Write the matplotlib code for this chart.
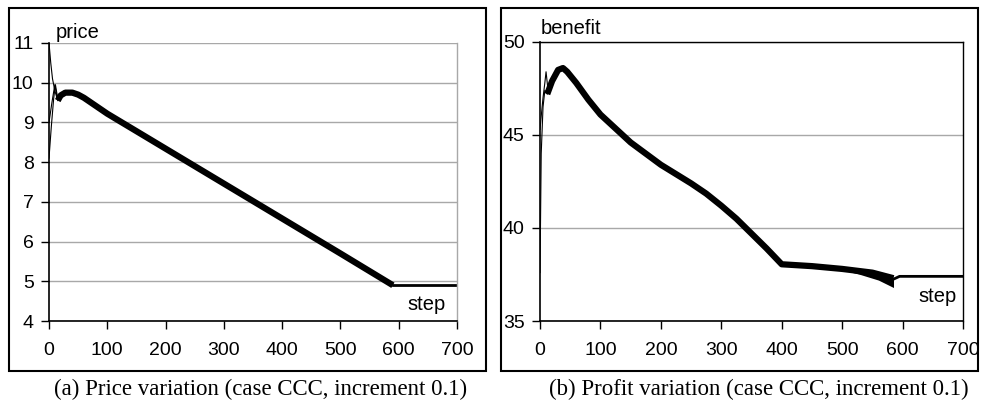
import matplotlib
matplotlib.use("Agg")
import matplotlib.pyplot as plt
from matplotlib.patches import Rectangle

# ---- price panel data (step, price) ----
price_a_steps = [0, 3, 6, 10, 14, 18]
price_a_vals = [11.0, 10.5, 10.1, 9.8, 9.6, 9.65]
price_b_steps = [0, 4, 8, 11, 15]
price_b_vals = [8.1, 8.9, 9.6, 9.95, 9.6]
price_c_steps = [0, 5, 10, 15]
price_c_vals = [9.0, 9.5, 9.95, 9.55]
price_main_steps = [15, 20, 28, 40, 50, 60, 100, 200, 300, 400, 500, 590]
price_main_vals = [9.55, 9.68, 9.75, 9.75, 9.7, 9.62, 9.22, 8.34, 7.46, 6.58, 5.70, 4.9]
price_tail_steps = [590, 700]
price_tail_vals = [4.9, 4.9]

# ---- benefit panel data (step, benefit) ----
ben_a_steps = [0, 2, 5, 8, 10, 13]
ben_a_vals = [45.3, 46.0, 47.0, 47.8, 48.4, 47.5]
ben_b_steps = [0, 2, 5, 8, 12]
ben_b_vals = [37.6, 44.0, 46.5, 47.4, 47.2]
ben_main_steps = [12, 20, 30, 38, 45, 60, 80, 100, 150, 200, 250, 275, 300,
                  325, 350, 375, 400, 450, 500, 550, 585]
ben_main_vals = [47.2, 47.9, 48.5, 48.6, 48.4, 47.8, 46.9, 46.1, 44.6, 43.4,
                 42.4, 41.85, 41.2, 40.5, 39.7, 38.9, 38.05, 37.95, 37.8,
                 37.6, 37.3]
ben_low_steps = [500, 530, 560, 585]
ben_low_vals = [37.75, 37.5, 37.2, 36.8]
ben_high_vals = [37.8, 37.7, 37.5, 37.3]
ben_tail_steps = [585, 595, 700]
ben_tail_vals = [37.25, 37.4, 37.4]

x_ticks = [0, 100, 200, 300, 400, 500, 600, 700]
price_ticks = [4, 5, 6, 7, 8, 9, 10, 11]
ben_ticks = [35, 40, 45, 50]

SANS = "Liberation Sans"
SERIF = "Liberation Serif"
FS_TICK = 14
FS_LABEL = 14.5
FS_CAPTION = 16.5

W, H = 981, 408
fig = plt.figure(figsize=(W / 100, H / 100), dpi=100)


def px_axes(x0, y0, x1, y1):
    return fig.add_axes([x0 / W, 1 - y1 / H, (x1 - x0) / W, (y1 - y0) / H])


def style_axes(ax, yticks, frame_color):
    ax.set_xlim(0, 700)
    ax.set_ylim(yticks[0], yticks[-1])
    ax.set_xticks(x_ticks)
    ax.set_yticks(yticks)
    ax.yaxis.grid(True, color="#a8a8a8", lw=1.0)
    ax.set_axisbelow(True)
    for s in ("left", "bottom"):
        ax.spines[s].set_color("black")
        ax.spines[s].set_linewidth(1.2)
    for s in ("top", "right"):
        ax.spines[s].set_color(frame_color)
        ax.spines[s].set_linewidth(1.0)
    ax.tick_params(axis="both", direction="out", length=6, width=1.0,
                   labelsize=FS_TICK)
    ax.tick_params(axis="x", pad=9, top=False)
    ax.tick_params(axis="y", pad=5, right=False)
    for lab in ax.get_xticklabels() + ax.get_yticklabels():
        lab.set_fontfamily(SANS)


# ---- (a) price ----
ax1 = px_axes(49, 43, 457, 321)
ax1.plot(price_a_steps, price_a_vals, color="black", lw=0.8)
ax1.plot(price_b_steps, price_b_vals, color="black", lw=0.8)
ax1.plot(price_c_steps, price_c_vals, color="black", lw=0.8)
ax1.plot(price_main_steps, price_main_vals, color="black", lw=4.5,
         solid_capstyle="butt")
ax1.plot(price_tail_steps, price_tail_vals, color="black", lw=2.0)
style_axes(ax1, price_ticks, "#a8a8a8")
ax1.spines["top"].set_visible(False)

# ---- (b) benefit ----
ax2 = px_axes(540, 42, 963, 321)
ax2.plot(ben_a_steps, ben_a_vals, color="black", lw=0.8)
ax2.plot(ben_b_steps, ben_b_vals, color="black", lw=0.8)
ax2.plot(ben_main_steps, ben_main_vals, color="black", lw=4.5,
         solid_capstyle="butt")
ax2.fill_between(ben_low_steps, ben_high_vals, ben_low_vals,
                 color="black", lw=0)
ax2.plot(ben_tail_steps, ben_tail_vals, color="black", lw=2.0)
style_axes(ax2, ben_ticks, "black")

# axis captions inside the frames
fig.text(56 / W, 1 - 32 / H, "price", fontsize=FS_LABEL, family=SANS,
         ha="left", va="center")
fig.text(446 / W, 1 - 305 / H, "step", fontsize=FS_LABEL, family=SANS,
         ha="right", va="center")
fig.text(541 / W, 1 - 28 / H, "benefit", fontsize=FS_LABEL, family=SANS,
         ha="left", va="center")
fig.text(957 / W, 1 - 297 / H, "step", fontsize=FS_LABEL, family=SANS,
         ha="right", va="center")

# outer frames around each panel
for x0, x1 in ((9, 486), (501, 978)):
    fig.add_artist(Rectangle((x0 / W, 1 - 371 / H), (x1 - x0) / W, 363 / H,
                             transform=fig.transFigure, fill=False,
                             edgecolor="black", lw=1.5))

fig.text(261 / W, 1 - 389 / H, "(a) Price variation (case CCC, increment 0.1)",
         fontsize=FS_CAPTION, family=SERIF, ha="center", va="center")
fig.text(759 / W, 1 - 389 / H, "(b) Profit variation (case CCC, increment 0.1)",
         fontsize=FS_CAPTION, family=SERIF, ha="center", va="center")

fig.savefig("out.png", dpi=100)
